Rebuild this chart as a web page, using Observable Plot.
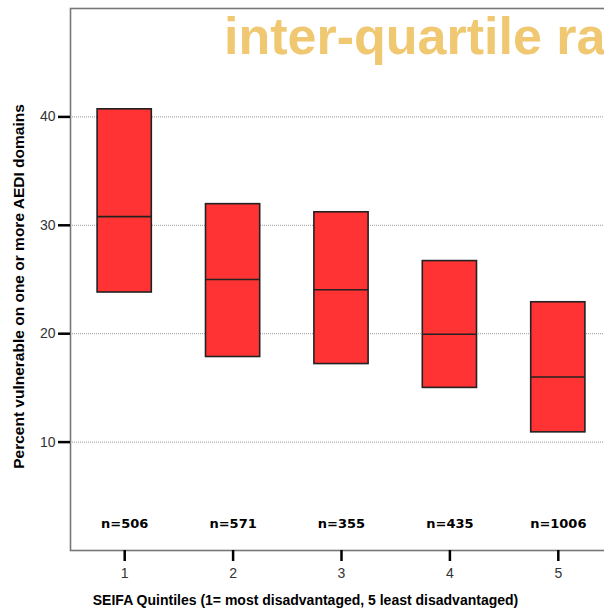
<!DOCTYPE html>
<html>
<head>
<meta charset="utf-8">
<script src="https://cdn.jsdelivr.net/npm/d3@7"></script>
<script src="https://cdn.jsdelivr.net/npm/@observablehq/plot@0.6"></script>
<style>
  html, body { margin: 0; padding: 0; background: #fff; overflow: hidden; }
  #wrap { position: relative; width: 604px; height: 614px; overflow: hidden; font-family: "Liberation Sans", Arial, sans-serif; }
  #chart { position: absolute; left: 0; top: 0; }
  .title { position: absolute; font-family: "Liberation Sans", Arial, sans-serif; font-weight: bold; font-size: 52px; color: #f0c872; white-space: nowrap; line-height: 1; }
</style>
</head>
<body>
<div id="wrap">
  <div id="chart"></div>
  <div class="title" id="t1" style="right:15px; top:-57px;">Vulnerability</div>
  <div class="title" id="t2" style="left:224px; top:10px;">inter-quartile range</div>
</div>
<script>
// Data
const quintiles = [1, 2, 3, 4, 5];
const q1Values = [23.8, 17.85, 17.2, 15.0, 10.9];
const medianValues = [30.8, 25.0, 24.05, 19.95, 16.0];
const q3Values = [40.7, 31.95, 31.2, 26.7, 22.9];
const nValues = [506, 571, 355, 435, 1006];
const yTicks = [10, 20, 30, 40];
const xLabel = "SEIFA Quintiles (1= most disadvantaged, 5 least disadvantaged)";
const yLabel = "Percent vulnerable on one or more AEDI domains";

const data = quintiles.map((q, i) => ({q, q1: q1Values[i], median: medianValues[i], q3: q3Values[i], n: nValues[i]}));
const half = 0.25;

const font = "'Liberation Sans', Arial, sans-serif";

const chart = Plot.plot({
  width: 604,
  height: 614,
  marginLeft: 70,
  marginRight: -8,
  marginTop: 8,
  marginBottom: 64,
  style: {fontFamily: font, background: "transparent", overflow: "visible"},
  x: {domain: [0.5, 5.5]},
  y: {domain: [0, 50]},
  marks: [
    Plot.ruleY(yTicks, {x1: 0.5, x2: 5.5, stroke: "#9a9a9a", strokeWidth: 1, strokeDasharray: "1,1"}),
    Plot.frame({stroke: "#777", strokeWidth: 1.6}),
    Plot.rect(data, {x1: d => d.q - half, x2: d => d.q + half, y1: "q1", y2: "q3", fill: "#ff3333", stroke: "#222", strokeWidth: 1.6}),
    Plot.ruleY(data, {y: "median", x1: d => d.q - half, x2: d => d.q + half, stroke: "#222", strokeWidth: 1.6}),
    Plot.text(data, {x: "q", frameAnchor: "bottom", dy: -23, text: d => "n=" + d.n, fontWeight: "bold", fontSize: 13, fontFamily: "'DejaVu Sans', Verdana, sans-serif", fill: "#000"}),
    Plot.axisY({ticks: yTicks, tickSize: 12, tickPadding: 3, strokeWidth: 2.5, stroke: "#000", fontSize: 14, color: "#333", label: null}),
    Plot.axisX({ticks: quintiles, tickFormat: d => String(d), tickSize: 11, tickPadding: 7, strokeWidth: 2.5, stroke: "#000", fontSize: 14, color: "#333", label: null}),
    Plot.text([yLabel], {frameAnchor: "left", textAnchor: "middle", rotate: -90, dx: -51, dy: 7, fontWeight: "bold", fontSize: 15.5, fill: "#000"}),
    Plot.text([xLabel], {frameAnchor: "bottom", textAnchor: "middle", dx: -36, dy: 54, fontWeight: "bold", fontSize: 14, fill: "#000"})
  ]
});
document.getElementById("chart").appendChild(chart);
</script>
</body>
</html>
